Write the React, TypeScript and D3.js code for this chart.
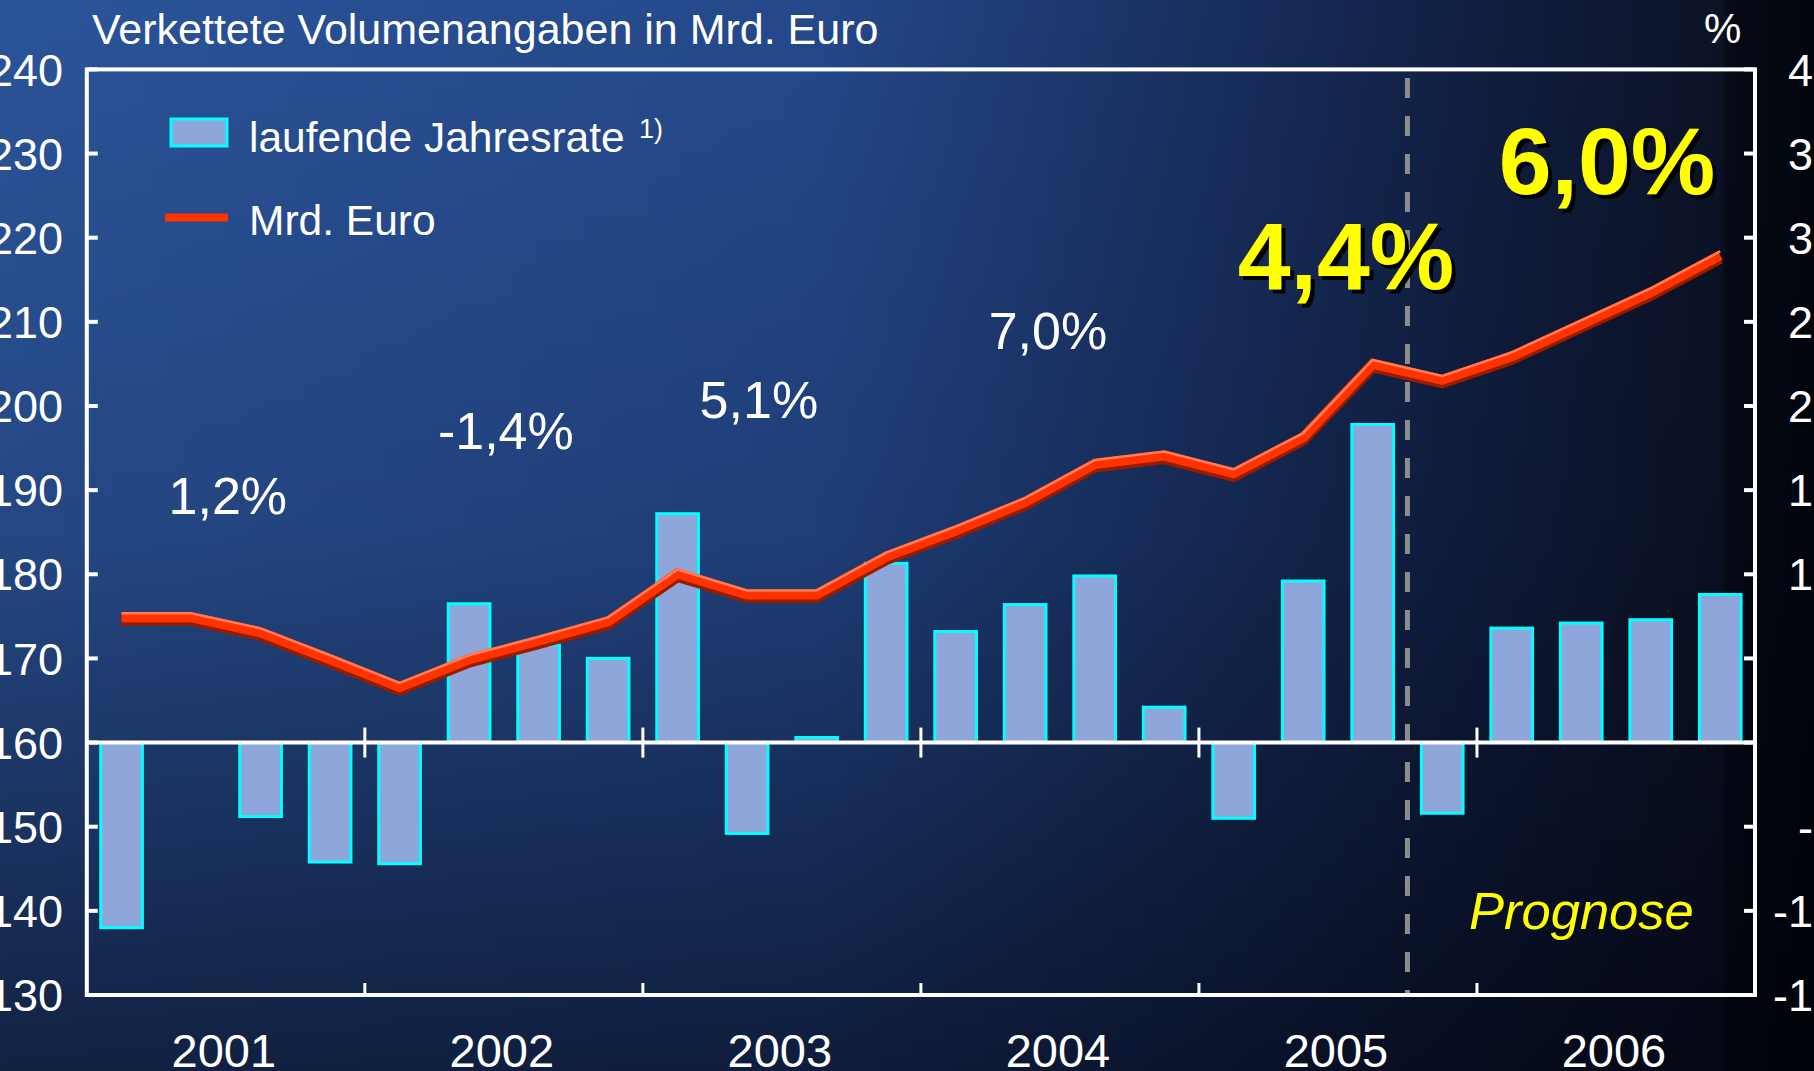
import React from "react";
import * as d3 from "d3";

// Quartale 2001-2006
const years = ["2001", "2002", "2003", "2004", "2005", "2006"];
const quarters = years.flatMap((y) => ["Q1", "Q2", "Q3", "Q4"].map((q) => `${y}-${q}`));

// laufende Jahresrate in % (rechte Achse)
const rate = [
  -11.0, 0.0, -4.4, -7.1,
  -7.2, 8.25, 5.8, 5.0,
  13.6, -5.4, 0.3, 10.65,
  6.6, 8.2, 9.9, 2.1,
  -4.5, 9.6, 18.9, -4.2,
  6.8, 7.1, 7.3, 8.8,
];

// Mrd. Euro (linke Achse)
const volume = [
  174.9, 174.9, 173.1, 169.9,
  166.6, 169.9, 172.1, 174.4,
  180.1, 177.6, 177.6, 182.1,
  185.2, 188.6, 193.1, 194.1,
  192.0, 196.3, 205.0, 203.1,
  205.9, 209.7, 213.5, 217.9,
];

const leftTicks = [130, 140, 150, 160, 170, 180, 190, 200, 210, 220, 230, 240];
const rightTicks = [-15, -10, -5, 0, 5, 10, 15, 20, 25, 30, 35, 40];

// Jahreswachstum
const growth = ["1,2%", "-1,4%", "5,1%", "7,0%", "4,4%", "6,0%"];

const W = 1814;
const H = 1071;
const left = 86.8;
const right = 1755;
const top = 69.4;
const bottom = 995;
const font = "'Liberation Sans', Arial, sans-serif";

// Lage der Jahreswerte (Verschiebung zur Jahresmitte, Grundlinie in Pixeln)
const growthPos = [
  { dx: 2, y: 514 },
  { dx: 2, y: 449 },
  { dx: -23, y: 418 },
  { dx: -12, y: 349 },
  { dx: 2, y: 289 },
  { dx: -1, y: 194 },
];

export default function App() {
  const x = d3.scaleBand<string>().domain(quarters).range([left, right]).paddingInner(0.4).paddingOuter(0.2);
  const step = x.step();
  const yL = d3.scaleLinear().domain([130, 240]).range([bottom, top]);
  const yR = d3.scaleLinear().domain([-15, 40]).range([bottom, top]);
  const cx = (q: string) => (x(q) as number) + x.bandwidth() / 2;
  const zero = yR(0);
  const yearMid = (i: number) => left + (i * 4 + 2) * step;

  const linePts = quarters.map((q, i) => [cx(q), yL(volume[i])] as [number, number]);
  const line = d3.line();
  const shifted = (dy: number) => line(linePts.map(([a, b]) => [a, b + dy] as [number, number])) || "";

  const forecastX = left + 19 * step;

  return (
    <svg width={W} height={H} style={{ position: "fixed", left: 0, top: 0 }} fontFamily={font}>
      <defs>
        <linearGradient id="bgH" x1="0" x2="1" y1="0" y2="0">
          <stop offset="0" stopColor="#2b5499" />
          <stop offset="0.45" stopColor="#24488a" />
          <stop offset="0.8" stopColor="#112044" />
          <stop offset="0.95" stopColor="#0c1226" />
          <stop offset="0.951" stopColor="#060b17" />
          <stop offset="1" stopColor="#01050c" />
        </linearGradient>
        <linearGradient id="bgV" x1="0" x2="0" y1="0" y2="1">
          <stop offset="0" stopColor="#000008" stopOpacity="0" />
          <stop offset="0.5" stopColor="#000008" stopOpacity="0.15" />
          <stop offset="1" stopColor="#000008" stopOpacity="0.6" />
        </linearGradient>
      </defs>
      <rect x={0} y={0} width={W} height={H} fill="url(#bgH)" />
      <rect x={0} y={0} width={W} height={H} fill="url(#bgV)" />

      {/* Titel */}
      <text x={92} y={44} fill="#fff" fontSize={43}>Verkettete Volumenangaben in Mrd. Euro</text>
      <text x={1704} y={43} fill="#fff" fontSize={42}>%</text>

      {/* Balken */}
      {quarters.map((q, i) => {
        const v = rate[i];
        const y0 = yR(Math.max(v, 0));
        const h = Math.abs(yR(v) - zero);
        return (
          <rect key={q} x={x(q)} y={y0} width={x.bandwidth()} height={h}
            fill="#8ea6d9" stroke="#00ffff" strokeWidth={3} />
        );
      })}

      {/* Prognose-Trennlinie */}
      <line x1={forecastX} x2={forecastX} y1={78} y2={bottom} stroke="#8c8c8c"
        strokeWidth={5} strokeDasharray="20 18" />

      {/* Linie Mrd. Euro */}
      <path d={shifted(3)} fill="none" stroke="#9a1c00" strokeWidth={11} strokeLinejoin="miter" />
      <path d={shifted(0)} fill="none" stroke="#ff3300" strokeWidth={10} strokeLinejoin="miter" />
      <path d={shifted(-4)} fill="none" stroke="#ff7a55" strokeWidth={2.5} strokeLinejoin="miter" />

      {/* Nulllinie */}
      <line x1={left} x2={right} y1={zero} y2={zero} stroke="#fff" strokeWidth={4} />
      {years.map((y, i) => i > 0 && (
        <g key={y}>
          <line x1={left + i * 4 * step} x2={left + i * 4 * step} y1={zero - 15} y2={zero + 15}
            stroke="#fff" strokeWidth={3} />
          <line x1={left + i * 4 * step} x2={left + i * 4 * step} y1={bottom - 12} y2={bottom}
            stroke="#fff" strokeWidth={3} />
        </g>
      ))}

      {/* Rahmen */}
      <rect x={left} y={top} width={right - left} height={bottom - top} fill="none" stroke="#fff" strokeWidth={4} />

      {/* linke Achse */}
      {leftTicks.map((t) => (
        <g key={t}>
          <line x1={left} x2={left + 11} y1={yL(t)} y2={yL(t)} stroke="#fff" strokeWidth={4} />
          <text x={63} y={yL(t)} dy="0.36em" textAnchor="end" fill="#fff" fontSize={45}>{t}</text>
        </g>
      ))}
      {/* rechte Achse */}
      {rightTicks.map((t) => (
        <g key={t}>
          <line x1={right - 11} x2={right} y1={yR(t)} y2={yR(t)} stroke="#fff" strokeWidth={4} />
          <text x={1838} y={yR(t)} dy="0.36em" textAnchor="end" fill="#fff" fontSize={45}>{t}</text>
        </g>
      ))}

      {/* Jahre */}
      {years.map((y, i) => (
        <text key={y} x={yearMid(i) - 2} y={1067} textAnchor="middle" fill="#fff" fontSize={47}>{y}</text>
      ))}

      {/* Legende */}
      <rect x={171} y={119} width={56} height={27} fill="#8ea6d9" stroke="#00ffff" strokeWidth={3} />
      <text x={249} y={152} fill="#fff" fontSize={42.5}>laufende Jahresrate</text>
      <text x={639} y={138} fill="#fff" fontSize={27}>1)</text>
      <line x1={165} x2={228} y1={217.5} y2={217.5} stroke="#ff3300" strokeWidth={8} />
      <text x={249} y={235} fill="#fff" fontSize={42.5}>Mrd. Euro</text>

      {/* Jahreswachstum */}
      {growth.slice(0, 4).map((t, i) => (
        <text key={t} x={yearMid(i) + growthPos[i].dx} y={growthPos[i].y} textAnchor="middle"
          fill="#fff" fontSize={52}>{t}</text>
      ))}
      {growth.slice(4).map((t, k) => {
        const i = k + 4;
        const gx = yearMid(i) + growthPos[i].dx + (i === 4 ? 0 : 0);
        const px = i === 4 ? 1346 : 1607;
        return (
          <g key={t} fontSize={95} fontWeight="bold" textAnchor="middle">
            <text x={px + 4} y={growthPos[i].y + 4} fill="#000">{t}</text>
            <text x={px} y={growthPos[i].y} fill="#ffff00" data-mid={gx}>{t}</text>
          </g>
        );
      })}
      <text x={1469} y={929} fill="#ffff00" fontSize={52.5} fontStyle="italic">Prognose</text>
    </svg>
  );
}
